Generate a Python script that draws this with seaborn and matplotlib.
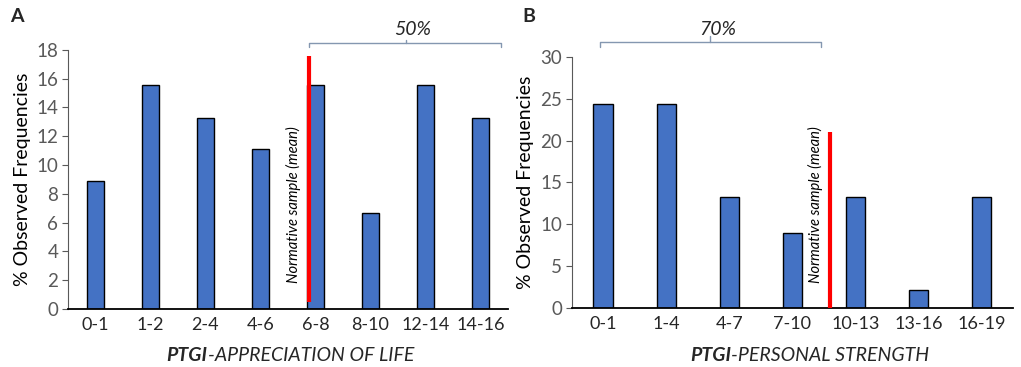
import matplotlib
matplotlib.use("Agg")
import matplotlib.pyplot as plt
import matplotlib.transforms as mtransforms
import seaborn as sns
import pandas as pd

# panel A
cats_a = ["0-1", "1-2", "2-4", "4-6", "6-8", "8-10", "12-14", "14-16"]
vals_a = [8.9, 15.55, 13.3, 11.1, 15.55, 6.7, 15.55, 13.25]
mean_a = 3.88      # x position of normative mean (category units)
mean_span_a = (0.5, 17.6)
brace_a = (3.88, 7.38, 5.64)
pct_a = "50%"

# panel B
cats_b = ["0-1", "1-4", "4-7", "7-10", "10-13", "13-16", "16-19"]
vals_b = [24.4, 24.4, 13.3, 8.9, 13.3, 2.2, 13.3]
mean_b = 3.6
mean_span_b = (0, 21.0)
brace_b = (-0.05, 3.46, 1.70)
pct_b = "70%"

sns.set_style("white")
plt.rcParams['font.family'] = ['Lato', 'DejaVu Sans']

bar_col = "#4472C4"
brace_col = "#8497B0"
grey = "#595959"

fig = plt.figure(figsize=(10.21, 3.67), dpi=100)
axA = fig.add_axes([0.0666, 0.158, 0.431, 0.706])
axB = fig.add_axes([0.560, 0.161, 0.432, 0.684])


def panel(ax, cats, vals, ymax, step, mx, mspan, brace, pct, y_line, y_end, y_mid, y_txt,
          xl_bold, xl_rest, xl_x, xl_y, txt_x):
    df = pd.DataFrame({"cat": cats, "val": vals})
    sns.barplot(data=df, x="cat", y="val", ax=ax, width=0.31, color=bar_col,
                saturation=1, edgecolor="black", linewidth=1)
    ax.set_xlim(-0.5, len(cats) - 0.5)
    ax.set_ylim(0, ymax)
    ax.set_yticks(range(0, ymax + 1, step))
    ax.set_xlabel("")
    ax.set_ylabel("% Observed Frequencies", fontsize=14, color="black", labelpad=4)
    ax.tick_params(axis="y", length=4, width=0.8, colors=grey, labelsize=13.5, pad=3,
                   left=True, labelcolor=grey)
    ax.tick_params(axis="x", length=0, labelsize=13, labelcolor="#262626", pad=6)
    for s in ["top", "right"]:
        ax.spines[s].set_visible(False)
    ax.spines["left"].set_color(grey)
    ax.spines["left"].set_linewidth(0.8)
    ax.spines["bottom"].set_color("black")
    ax.spines["bottom"].set_linewidth(1.3)

    # normative mean line + label
    ax.plot([mx, mx], list(mspan), color="red", lw=3, solid_capstyle="butt", zorder=5)
    ax.text(txt_x, 0.1 * ymax, "Normative sample (mean)", rotation=90, style="italic",
            fontsize=10.6, ha="center", va="bottom", color="black")

    # brace
    tr = mtransforms.blended_transform_factory(ax.transData, ax.transAxes)
    x0, x1, xm = brace
    ax.plot([x0, x0, x1, x1], [y_end, y_line, y_line, y_end], color=brace_col, lw=1,
            transform=tr, clip_on=False)
    ax.plot([xm, xm], [y_line, y_mid], color=brace_col, lw=1, transform=tr, clip_on=False)
    ax.text(xm + 0.12, y_txt, pct, transform=tr, ha="center", va="center",
            fontsize=14, style="italic")

    # x label: bold italic prefix + italic rest
    ax.text(xl_x, xl_y, xl_bold, transform=tr, ha="right", va="center", fontsize=14,
            style="italic", weight="bold")
    ax.text(xl_x, xl_y, xl_rest, transform=tr, ha="left", va="center", fontsize=14,
            style="italic")


panel(axA, cats_a, vals_a, 18, 2, mean_a, mean_span_a, brace_a, pct_a,
      1.027, 1.012, 1.039, 1.08, "PTGI", "-APPRECIATION OF LIFE", 2.04, -0.18, 3.6)
panel(axB, cats_b, vals_b, 30, 5, mean_b, mean_span_b, brace_b, pct_b,
      1.06, 1.04, 1.084, 1.11, "PTGI", "-PERSONAL STRENGTH", 2.03, -0.19, 3.37)

fig.text(0.010, 0.955, "A", fontsize=14, weight="bold", va="center")
fig.text(0.512, 0.955, "B", fontsize=14, weight="bold", va="center")

fig.savefig("out.png", dpi=100)
